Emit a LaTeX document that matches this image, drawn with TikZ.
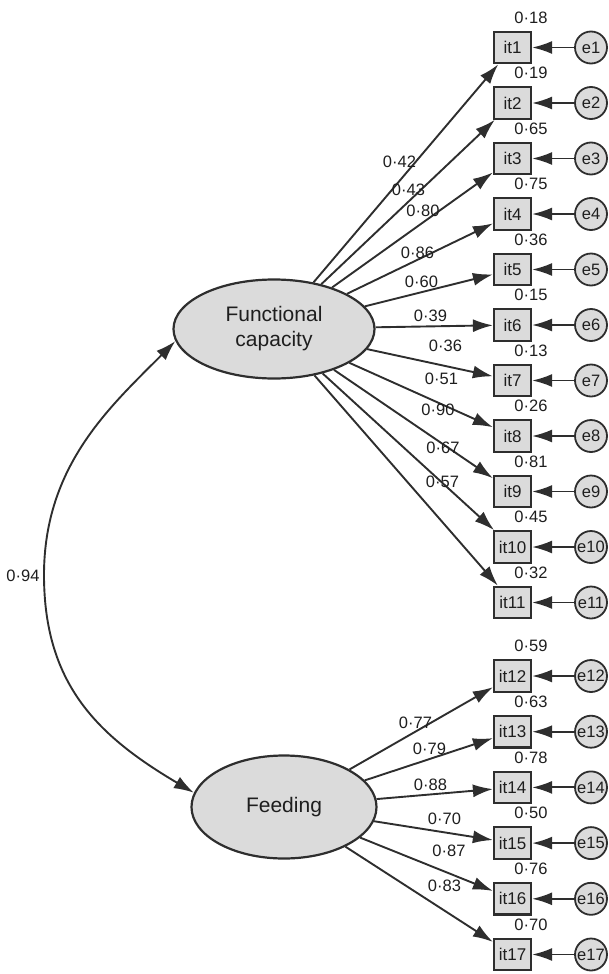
\documentclass[tikz,border=0pt]{standalone}
\usepackage{fontspec}
\setmainfont{Liberation Sans}
\usetikzlibrary{shapes.geometric,arrows.meta}
\definecolor{ink}{HTML}{2E2E2E}
\definecolor{shade}{HTML}{DBDBDB}
\definecolor{txt}{HTML}{1E1E1E}
\begin{document}
\begin{tikzpicture}[x=1pt,y=-1pt,
  latent/.style={ellipse, draw=ink, line width=2.2pt, fill=shade, inner sep=0pt,
                 text=txt, font=\fontsize{21}{25}\selectfont, align=center},
  obs/.style={rectangle, draw=ink, line width=2.2pt, fill=shade, minimum width=37pt,
              minimum height=31.5pt, inner sep=0pt, text=txt, font=\fontsize{17}{20}\selectfont},
  err/.style={circle, draw=ink, line width=1.8pt, fill=shade, minimum size=32pt,
              inner sep=0pt, text=txt, font=\fontsize{16.5}{20}\selectfont},
  tip/.style={Latex[length=20pt,width=13pt]},
  arr/.style={-{Latex[length=20pt,width=13pt]}, draw=ink, line width=1.9pt},
  biarr/.style={{Latex[length=20pt,width=13pt]}-{Latex[length=20pt,width=13pt]}, draw=ink, line width=1.9pt},
  lbl/.style={inner sep=0pt, text=txt, font=\fontsize{16.5}{20}\selectfont}
]
\useasboundingbox (0,0) rectangle (609,974);

% latent factors
\node[latent, minimum width=201pt, minimum height=99pt] (fc) at (274,329) {Functional\\capacity};
\node[latent, minimum width=185pt, minimum height=103pt] (fd) at (284,807) {Feeding};

% observed items and their error terms
\foreach \i in {1,...,11} {
  \node[obs] (it\i) at (512.5,{47.5+55.5*(\i-1)}) {it\i};
  \node[err] (e\i) at (591,{47.5+55.5*(\i-1)}) {e\i};
}
\foreach \i in {12,...,17} {
  \node[obs] (it\i) at (512.5,{676+55.7*(\i-12)}) {it\i};
  \node[err] (e\i) at (591,{676+55.7*(\i-12)}) {e\i};
}

% error paths
\foreach \i in {1,...,17} \draw[arr] (e\i) -- (it\i);

% factor loadings
\foreach \i in {1,...,11} \draw[arr] (fc) -- (it\i);
\foreach \i in {12,...,17} \draw[arr] (fd) -- (it\i);

% correlation between factors
\draw[biarr] (fd.171) .. controls (98.7,736.4) and (44,685) .. (44,575)
             .. controls (44,465) and (111,406) .. (fc.187.5);
\node[lbl] (r) at (23,575.5) {0·94};

% squared multiple correlations
\foreach \i/\v in {1/0·18,2/0·19,3/0·65,4/0·75,5/0·36,6/0·15,7/0·13,8/0·26,9/0·81,
                   10/0·45,11/0·32,12/0·59,13/0·63,14/0·78,15/0·50,16/0·76,17/0·70}
  \node[lbl] (r\i) at ([xshift=18.5pt,yshift=30pt]it\i.center) {\v};

% loading values
\foreach \n/\x/\y/\v in {l1/399.5/162/0·42, l2/408.5/190/0·43, l3/423/211/0·80,
                         l4/417.5/253/0·86, l5/421.5/281.5/0·60, l6/430.5/315.5/0·39,
                         l7/445.5/346/0·36, l8/441.5/379/0·51, l9/438/409.5/0·90,
                         l10/443/448/0·67, l11/442.5/482/0·57,
                         l12/415.5/723/0·77, l13/429.5/748.5/0·79, l14/430.5/784.5/0·88,
                         l15/444.5/819/0·70, l16/449/851/0·87, l17/444.5/885.5/0·83}
  \node[lbl] (\n) at (\x,\y) {\v};
\end{tikzpicture}
\end{document}
